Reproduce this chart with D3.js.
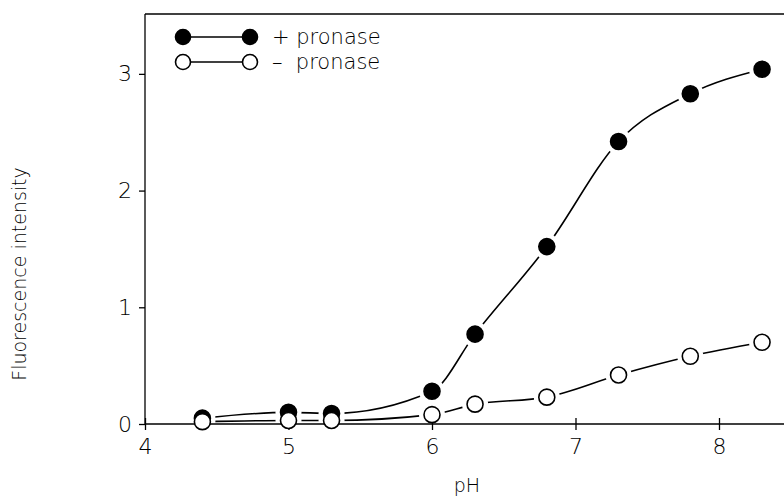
<!DOCTYPE html>
<html><head><meta charset="utf-8">
<script src="https://cdn.jsdelivr.net/npm/d3@7"></script>
<style>body{margin:0;background:#fff}svg{display:block}</style>
</head><body>
<svg id="c" width="784" height="499"></svg>
<script>
const pH = [4.4, 5.0, 5.3, 6.0, 6.3, 6.8, 7.3, 7.8, 8.3];
const plusPronase = [0.05, 0.10, 0.09, 0.28, 0.77, 1.52, 2.42, 2.83, 3.04];
const minusPronase = [0.02, 0.03, 0.03, 0.08, 0.17, 0.23, 0.42, 0.58, 0.70];
const xTicks = [4, 5, 6, 7, 8];
const yTicks = [0, 1, 2, 3];
const legendLabels = ["+ pronase", "\u2013  pronase"];

const svg = d3.select("#c");
const m = {left:145, top:14, right:0, bottom:75};
const W = 784, H = 499;
const x = d3.scaleLinear().domain([4, 8.453]).range([m.left, W - m.right]);
const y = d3.scaleLinear().domain([0, 3.513]).range([H - m.bottom, m.top]);
const font = "DejaVu Sans, sans-serif";
const fw = 200;

const series = [
  {vals: plusPronase, fill: "#000"},
  {vals: minusPronase, fill: "#fff"}
];
const line = d3.line().x(d => x(d[0])).y(d => y(d[1])).curve(d3.curveMonotoneX);
series.forEach(s => {
  svg.append("path").attr("d", line(pH.map((p,i)=>[p, s.vals[i]])))
    .attr("fill","none").attr("stroke","#000").attr("stroke-width",1.6);
});
// gaps around markers
series.forEach(s => {
  svg.append("g").selectAll("circle").data(pH).join("circle")
    .attr("cx", (p)=>x(p)).attr("cy", (p,i)=>y(s.vals[i])).attr("r", 13).attr("fill","#fff");
});

// axes
const xa = svg.append("g").attr("transform",`translate(0,${y(0)})`)
  .call(d3.axisBottom(x).tickValues(xTicks).tickFormat(d3.format("d")).tickSize(6).tickPadding(8));
const ya = svg.append("g").attr("transform",`translate(${x(4)},0)`)
  .call(d3.axisLeft(y).tickValues(yTicks).tickFormat(d3.format("d")).tickSize(6).tickPadding(7));
[xa, ya].forEach(a => {
  a.select(".domain").attr("stroke","#000").attr("stroke-width",1.3);
  a.selectAll(".tick line").attr("stroke","#000").attr("stroke-width",1.3);
  a.selectAll("text").attr("font-family", font).attr("font-weight", fw).attr("font-size", 22).attr("fill","#000");
});
xa.selectAll(".tick line").attr("y1", -6);
ya.select(".domain").attr("d", `M0,${y(0)}V${m.top}`);
xa.select(".domain").attr("d", `M${x(4)},0H${W}`);
// top frame
svg.append("line").attr("x1", x(4)).attr("x2", W).attr("y1", m.top).attr("y2", m.top)
  .attr("stroke","#000").attr("stroke-width",1.3);

// markers
series.forEach(s => {
  svg.append("g").selectAll("circle").data(pH).join("circle")
    .attr("cx", (p)=>x(p)).attr("cy", (p,i)=>y(s.vals[i])).attr("r", 8)
    .attr("fill", s.fill).attr("stroke","#000").attr("stroke-width",1.6);
});

// axis titles
svg.append("text").attr("x", 467).attr("y", 492).attr("text-anchor","middle")
  .attr("font-family", font).attr("font-weight", fw).attr("font-size", 19).text("pH");
svg.append("text").attr("transform", `translate(26,${(y(0)+m.top)/2+55}) rotate(-90)`)
  .attr("text-anchor","middle").attr("font-family", font).attr("font-weight", fw).attr("font-size", 19)
  .text("Fluorescence intensity");

// legend
const lg = svg.append("g");
series.forEach((s, i) => {
  const cy = 37 + i*25;
  lg.append("line").attr("x1", 185).attr("x2", 246).attr("y1", cy).attr("y2", cy)
    .attr("stroke","#000").attr("stroke-width",1.6);
  [183, 250].forEach(cx => lg.append("circle").attr("cx", cx).attr("cy", cy).attr("r", 7.5)
    .attr("fill", s.fill).attr("stroke","#000").attr("stroke-width",1.6));
  lg.append("text").attr("x", 272).attr("y", cy + 7).attr("font-family", font).attr("font-weight", fw)
    .attr("font-size", 21).attr("xml:space","preserve").text(legendLabels[i]);
});
</script>
</body></html>
